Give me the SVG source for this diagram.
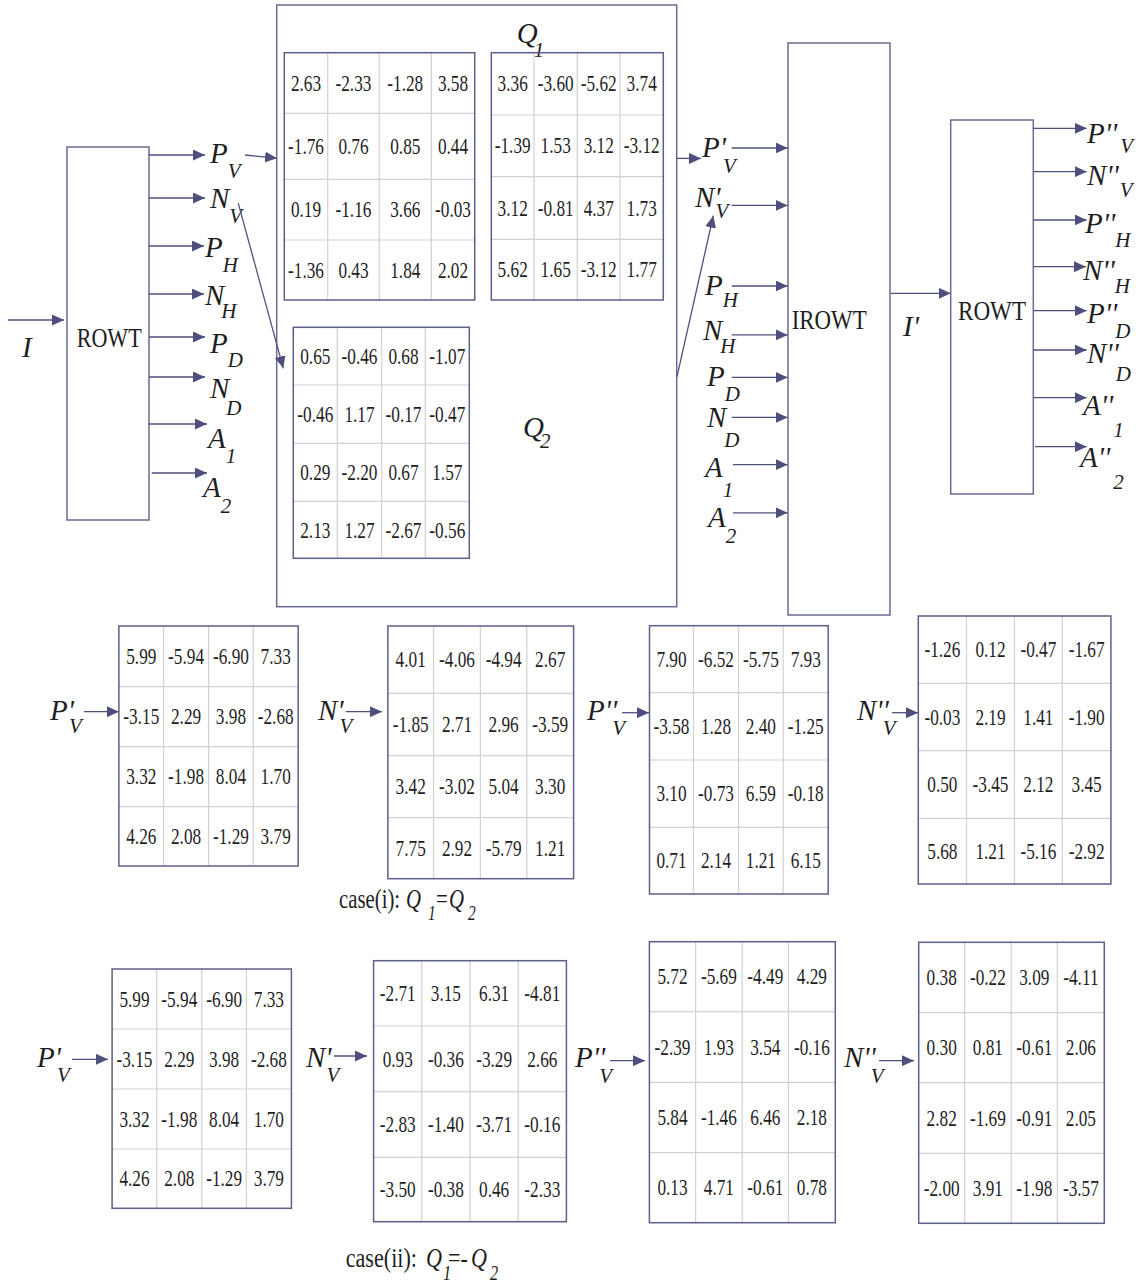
<svg xmlns="http://www.w3.org/2000/svg" width="1136" height="1282" viewBox="0 0 1136 1282">
<style>
.box{fill:none;stroke:#6a6a92;stroke-width:1.5}
.mo{fill:none;stroke:#5e5e8a;stroke-width:1.5}
.mg{fill:none;stroke:#d2d2d2;stroke-width:1.2}
.cn{fill:none;stroke:#4f4f7d;stroke-width:1.3;marker-end:url(#ah)}
.num{font-family:"Liberation Serif","Times New Roman",serif;font-size:23px;fill:#1e1e1e;text-anchor:middle}
.lab{font-family:"Liberation Serif","Times New Roman",serif;font-style:italic;font-size:29px;fill:#1e1e1e}
.sub{font-size:21px}
.big{font-family:"Liberation Serif","Times New Roman",serif;font-size:28px;fill:#1e1e1e}
.cap{font-family:"Liberation Serif","Times New Roman",serif;font-size:27px;fill:#1e1e1e}
.it{font-style:italic}
.sm{font-size:20px}
</style>
<defs>
<marker id="ah" markerWidth="13" markerHeight="11" refX="12" refY="5.5" orient="auto" markerUnits="userSpaceOnUse"><path d="M0,0L12,5.5L0,11z" fill="#4f4f7d"/></marker>
</defs>
<rect width="1136" height="1282" fill="#fff"/>

<!-- boxes -->
<g id="rowt1"><rect class="box" x="67" y="147" width="82" height="373"/><text class="big" x="76.7" y="346.7" textLength="65" lengthAdjust="spacingAndGlyphs">ROWT</text></g>
<g id="qbox"><rect class="box" x="276.7" y="5" width="400" height="601.7"/>
<text class="lab" x="516.7" y="43.3">Q<tspan class="sub" dx="-4" dy="13.4">1</tspan></text>
<text class="lab" x="523" y="436.7">Q<tspan class="sub" dx="-4" dy="11.6">2</tspan></text></g>
<g id="irowt"><rect class="box" x="788" y="43" width="102" height="572"/><text class="big" x="791.7" y="328.6" textLength="75" lengthAdjust="spacingAndGlyphs">IROWT</text></g>
<g id="rowt2"><rect class="box" x="950.7" y="120" width="82.6" height="374"/><text class="big" x="958" y="320" textLength="68" lengthAdjust="spacingAndGlyphs">ROWT</text></g>

<!-- matrices -->
<g id="q1a"><path class="mg" d="M327.7 52.7V300M379.3 52.7V300M431.3 52.7V300M284.3 113.3H474.7M284.3 179.3H474.7M284.3 240H474.7"/><rect class="mo" x="284.3" y="52.7" width="190.4" height="247.3"/>
<g transform="scale(0.75,1)" class="num">
<text y="91"><tspan x="408">2.63</tspan><tspan x="471.3">-2.33</tspan><tspan x="540.4">-1.28</tspan><tspan x="604">3.58</tspan></text>
<text y="154"><tspan x="408">-1.76</tspan><tspan x="471.3">0.76</tspan><tspan x="540.4">0.85</tspan><tspan x="604">0.44</tspan></text>
<text y="217.5"><tspan x="408">0.19</tspan><tspan x="471.3">-1.16</tspan><tspan x="540.4">3.66</tspan><tspan x="604">-0.03</tspan></text>
<text y="278"><tspan x="408">-1.36</tspan><tspan x="471.3">0.43</tspan><tspan x="540.4">1.84</tspan><tspan x="604">2.02</tspan></text>
</g></g>

<g id="q1b"><path class="mg" d="M534 52.7V300M577.3 52.7V300M620 52.7V300M491.3 115H663.3M491.3 176.7H663.3M491.3 239.3H663.3"/><rect class="mo" x="491.3" y="52.7" width="172" height="247.3"/>
<g transform="scale(0.75,1)" class="num">
<text y="91.5"><tspan x="683.6">3.36</tspan><tspan x="740.9">-3.60</tspan><tspan x="798.3">-5.62</tspan><tspan x="855.6">3.74</tspan></text>
<text y="153.5"><tspan x="683.6">-1.39</tspan><tspan x="740.9">1.53</tspan><tspan x="798.3">3.12</tspan><tspan x="855.6">-3.12</tspan></text>
<text y="216"><tspan x="683.6">3.12</tspan><tspan x="740.9">-0.81</tspan><tspan x="798.3">4.37</tspan><tspan x="855.6">1.73</tspan></text>
<text y="277.5"><tspan x="683.6">5.62</tspan><tspan x="740.9">1.65</tspan><tspan x="798.3">-3.12</tspan><tspan x="855.6">1.77</tspan></text>
</g></g>

<g id="q2"><path class="mg" d="M337.3 327.3V558.3M381.7 327.3V558.3M425.3 327.3V558.3M293.3 385H469.3M293.3 443.3H469.3M293.3 501.3H469.3"/><rect class="mo" x="293.3" y="327.3" width="176" height="231"/>
<g transform="scale(0.75,1)" class="num">
<text y="364"><tspan x="420.4">0.65</tspan><tspan x="479.3">-0.46</tspan><tspan x="538">0.68</tspan><tspan x="596.4">-1.07</tspan></text>
<text y="422"><tspan x="420.4">-0.46</tspan><tspan x="479.3">1.17</tspan><tspan x="538">-0.17</tspan><tspan x="596.4">-0.47</tspan></text>
<text y="480"><tspan x="420.4">0.29</tspan><tspan x="479.3">-2.20</tspan><tspan x="538">0.67</tspan><tspan x="596.4">1.57</tspan></text>
<text y="537.6"><tspan x="420.4">2.13</tspan><tspan x="479.3">1.27</tspan><tspan x="538">-2.67</tspan><tspan x="596.4">-0.56</tspan></text>
</g></g>

<g id="m_i_pv"><path class="mg" d="M163.6 626V866M208.6 626V866M253.2 626V866M118.9 686.7H298.2M118.9 746.7H298.2M118.9 806.7H298.2"/><rect class="mo" x="118.9" y="626" width="179.3" height="240"/>
<g transform="scale(0.75,1)" class="num">
<text y="664"><tspan x="188.4">5.99</tspan><tspan x="248.1">-5.94</tspan><tspan x="307.9">-6.90</tspan><tspan x="367.6">7.33</tspan></text>
<text y="724.5"><tspan x="188.4">-3.15</tspan><tspan x="248.1">2.29</tspan><tspan x="307.9">3.98</tspan><tspan x="367.6">-2.68</tspan></text>
<text y="784.5"><tspan x="188.4">3.32</tspan><tspan x="248.1">-1.98</tspan><tspan x="307.9">8.04</tspan><tspan x="367.6">1.70</tspan></text>
<text y="844"><tspan x="188.4">4.26</tspan><tspan x="248.1">2.08</tspan><tspan x="307.9">-1.29</tspan><tspan x="367.6">3.79</tspan></text>
</g></g>

<g id="m_i_nv"><path class="mg" d="M433.6 626V878.7M480.4 626V878.7M526.8 626V878.7M387.9 693.3H573.6M387.9 755.7H573.6M387.9 817.7H573.6"/><rect class="mo" x="387.9" y="626" width="185.7" height="252.7"/>
<g transform="scale(0.75,1)" class="num">
<text y="667.5"><tspan x="547.6">4.01</tspan><tspan x="609.3">-4.06</tspan><tspan x="671.5">-4.94</tspan><tspan x="733.6">2.67</tspan></text>
<text y="732.3"><tspan x="547.6">-1.85</tspan><tspan x="609.3">2.71</tspan><tspan x="671.5">2.96</tspan><tspan x="733.6">-3.59</tspan></text>
<text y="794.5"><tspan x="547.6">3.42</tspan><tspan x="609.3">-3.02</tspan><tspan x="671.5">5.04</tspan><tspan x="733.6">3.30</tspan></text>
<text y="856"><tspan x="547.6">7.75</tspan><tspan x="609.3">2.92</tspan><tspan x="671.5">-5.79</tspan><tspan x="733.6">1.21</tspan></text>
</g></g>

<g id="m_i_ppv"><path class="mg" d="M693.5 625.7V894M738.5 625.7V894M783.2 625.7V894M649.5 692.7H828.2M649.5 760H828.2M649.5 827.3H828.2"/><rect class="mo" x="649.5" y="625.7" width="178.7" height="268.3"/>
<g transform="scale(0.75,1)" class="num">
<text y="667"><tspan x="895.3">7.90</tspan><tspan x="954.7">-6.52</tspan><tspan x="1014.5">-5.75</tspan><tspan x="1074.3">7.93</tspan></text>
<text y="734"><tspan x="895.3">-3.58</tspan><tspan x="954.7">1.28</tspan><tspan x="1014.5">2.40</tspan><tspan x="1074.3">-1.25</tspan></text>
<text y="801.5"><tspan x="895.3">3.10</tspan><tspan x="954.7">-0.73</tspan><tspan x="1014.5">6.59</tspan><tspan x="1074.3">-0.18</tspan></text>
<text y="868.5"><tspan x="895.3">0.71</tspan><tspan x="954.7">2.14</tspan><tspan x="1014.5">1.21</tspan><tspan x="1074.3">6.15</tspan></text>
</g></g>

<g id="m_i_nnv"><path class="mg" d="M966.5 616V884M1014.4 616V884M1062.3 616V884M918.3 683.3H1110.9M918.3 750.7H1110.9M918.3 818.3H1110.9"/><rect class="mo" x="918.3" y="616" width="192.6" height="268"/>
<g transform="scale(0.75,1)" class="num">
<text y="657.5"><tspan x="1256.5">-1.26</tspan><tspan x="1320.7">0.12</tspan><tspan x="1384.5">-0.47</tspan><tspan x="1448.8">-1.67</tspan></text>
<text y="724.8"><tspan x="1256.5">-0.03</tspan><tspan x="1320.7">2.19</tspan><tspan x="1384.5">1.41</tspan><tspan x="1448.8">-1.90</tspan></text>
<text y="792.3"><tspan x="1256.5">0.50</tspan><tspan x="1320.7">-3.45</tspan><tspan x="1384.5">2.12</tspan><tspan x="1448.8">3.45</tspan></text>
<text y="859"><tspan x="1256.5">5.68</tspan><tspan x="1320.7">1.21</tspan><tspan x="1384.5">-5.16</tspan><tspan x="1448.8">-2.92</tspan></text>
</g></g>

<g id="m_ii_pv"><path class="mg" d="M156.8 969V1208.3M201.8 969V1208.3M246.4 969V1208.3M112.1 1029H291.4M112.1 1089H291.4M112.1 1149H291.4"/><rect class="mo" x="112.1" y="969" width="179.3" height="239.3"/>
<g transform="scale(0.75,1)" class="num">
<text y="1006.8"><tspan x="179.3">5.99</tspan><tspan x="239.1">-5.94</tspan><tspan x="298.8">-6.90</tspan><tspan x="358.5">7.33</tspan></text>
<text y="1066.8"><tspan x="179.3">-3.15</tspan><tspan x="239.1">2.29</tspan><tspan x="298.8">3.98</tspan><tspan x="358.5">-2.68</tspan></text>
<text y="1126.8"><tspan x="179.3">3.32</tspan><tspan x="239.1">-1.98</tspan><tspan x="298.8">8.04</tspan><tspan x="358.5">1.70</tspan></text>
<text y="1186.5"><tspan x="179.3">4.26</tspan><tspan x="239.1">2.08</tspan><tspan x="298.8">-1.29</tspan><tspan x="358.5">3.79</tspan></text>
</g></g>

<g id="m_ii_nv"><path class="mg" d="M421.8 960.7V1221.7M470 960.7V1221.7M518.2 960.7V1221.7M373.6 1026H566.4M373.6 1091.7H566.4M373.6 1157.3H566.4"/><rect class="mo" x="373.6" y="960.7" width="192.8" height="261"/>
<g transform="scale(0.75,1)" class="num">
<text y="1001"><tspan x="530.3">-2.71</tspan><tspan x="594.5">3.15</tspan><tspan x="658.8">6.31</tspan><tspan x="723.1">-4.81</tspan></text>
<text y="1066.6"><tspan x="530.3">0.93</tspan><tspan x="594.5">-0.36</tspan><tspan x="658.8">-3.29</tspan><tspan x="723.1">2.66</tspan></text>
<text y="1132.3"><tspan x="530.3">-2.83</tspan><tspan x="594.5">-1.40</tspan><tspan x="658.8">-3.71</tspan><tspan x="723.1">-0.16</tspan></text>
<text y="1197.3"><tspan x="530.3">-3.50</tspan><tspan x="594.5">-0.38</tspan><tspan x="658.8">0.46</tspan><tspan x="723.1">-2.33</tspan></text>
</g></g>

<g id="m_ii_ppv"><path class="mg" d="M695.6 941.7V1222.7M742.2 941.7V1222.7M788.4 941.7V1222.7M649.4 1011.7H835.3M649.4 1082.3H835.3M649.4 1152.7H835.3"/><rect class="mo" x="649.4" y="941.7" width="185.9" height="281"/>
<g transform="scale(0.75,1)" class="num">
<text y="984.5"><tspan x="896.7">5.72</tspan><tspan x="958.5">-5.69</tspan><tspan x="1020.4">-4.49</tspan><tspan x="1082.5">4.29</tspan></text>
<text y="1054.8"><tspan x="896.7">-2.39</tspan><tspan x="958.5">1.93</tspan><tspan x="1020.4">3.54</tspan><tspan x="1082.5">-0.16</tspan></text>
<text y="1125.3"><tspan x="896.7">5.84</tspan><tspan x="958.5">-1.46</tspan><tspan x="1020.4">6.46</tspan><tspan x="1082.5">2.18</tspan></text>
<text y="1195.5"><tspan x="896.7">0.13</tspan><tspan x="958.5">4.71</tspan><tspan x="1020.4">-0.61</tspan><tspan x="1082.5">0.78</tspan></text>
</g></g>

<g id="m_ii_nnv"><path class="mg" d="M964.6 942.3V1223.3M1011.2 942.3V1223.3M1057.4 942.3V1223.3M918.7 1012.7H1104.3M918.7 1082.7H1104.3M918.7 1153.3H1104.3"/><rect class="mo" x="918.7" y="942.3" width="185.6" height="281"/>
<g transform="scale(0.75,1)" class="num">
<text y="985.3"><tspan x="1255.6">0.38</tspan><tspan x="1317.2">-0.22</tspan><tspan x="1379.1">3.09</tspan><tspan x="1441.2">-4.11</tspan></text>
<text y="1055.5"><tspan x="1255.6">0.30</tspan><tspan x="1317.2">0.81</tspan><tspan x="1379.1">-0.61</tspan><tspan x="1441.2">2.06</tspan></text>
<text y="1125.8"><tspan x="1255.6">2.82</tspan><tspan x="1317.2">-1.69</tspan><tspan x="1379.1">-0.91</tspan><tspan x="1441.2">2.05</tspan></text>
<text y="1196"><tspan x="1255.6">-2.00</tspan><tspan x="1317.2">3.91</tspan><tspan x="1379.1">-1.98</tspan><tspan x="1441.2">-3.57</tspan></text>
</g></g>

<!-- labels -->
<g id="labels">
<text class="lab" x="22" y="357">I</text>
<text class="lab" x="210" y="163">P<tspan class="sub" dy="15">V</tspan></text>
<text class="lab" x="210" y="208">N<tspan class="sub" dy="15">V</tspan></text>
<text class="lab" x="205" y="257">P<tspan class="sub" dy="15">H</tspan></text>
<text class="lab" x="205" y="305">N<tspan class="sub" dx="-3" dy="13">H</tspan></text>
<text class="lab" x="210" y="353">P<tspan class="sub" dy="14">D</tspan></text>
<text class="lab" x="210" y="398">N<tspan class="sub" dx="-3" dy="17">D</tspan></text>
<text class="lab" x="208" y="448">A<tspan class="sub" dy="15">1</tspan></text>
<text class="lab" x="203" y="497">A<tspan class="sub" dy="16">2</tspan></text>

<text class="lab" x="702" y="156.5">P'<tspan class="sub" dx="-3" dy="16">V</tspan></text>
<text class="lab" x="695" y="206.5">N'<tspan class="sub" dx="-5" dy="11">V</tspan></text>
<text class="lab" x="705" y="295">P<tspan class="sub" dy="12">H</tspan></text>
<text class="lab" x="703" y="340">N<tspan class="sub" dx="-2" dy="12.6">H</tspan></text>
<text class="lab" x="707" y="386">P<tspan class="sub" dy="14.7">D</tspan></text>
<text class="lab" x="707" y="426.6">N<tspan class="sub" dx="-2" dy="20">D</tspan></text>
<text class="lab" x="705" y="476.6">A<tspan class="sub" dy="20">1</tspan></text>
<text class="lab" x="708" y="526.5">A<tspan class="sub" dy="16.5">2</tspan></text>

<text class="lab" x="903" y="336">I'</text>
<text class="lab" x="1087" y="143.3">P''<tspan class="sub" dx="3" dy="10">V</tspan></text>
<text class="lab" x="1087" y="185">N''<tspan class="sub" dx="1" dy="12">V</tspan></text>
<text class="lab" x="1085" y="233.3">P''<tspan class="sub" dy="13.3">H</tspan></text>
<text class="lab" x="1083" y="280">N''<tspan class="sub" dy="13.3">H</tspan></text>
<text class="lab" x="1087" y="323.3">P''<tspan class="sub" dx="-2" dy="15">D</tspan></text>
<text class="lab" x="1087" y="363.3">N''<tspan class="sub" dx="-3" dy="18">D</tspan></text>
<text class="lab" x="1083" y="415">A''<tspan class="sub" dy="21.7">1</tspan></text>
<text class="lab" x="1080" y="467">A''<tspan class="sub" dx="3" dy="21.7">2</tspan></text>

<text class="lab" x="50" y="720">P'<tspan class="sub" dx="-5" dy="13">V</tspan></text>
<text class="lab" x="318" y="720">N'<tspan class="sub" dx="-4" dy="13">V</tspan></text>
<text class="lab" x="587" y="720">P''<tspan class="sub" dx="-5" dy="15">V</tspan></text>
<text class="lab" x="857" y="720">N''<tspan class="sub" dx="-6" dy="15">V</tspan></text>
<text class="lab" x="37" y="1067">P'<tspan class="sub" dx="-4" dy="15">V</tspan></text>
<text class="lab" x="306" y="1067">N'<tspan class="sub" dx="-5" dy="15">V</tspan></text>
<text class="lab" x="575" y="1067">P''<tspan class="sub" dx="-6" dy="16">V</tspan></text>
<text class="lab" x="844" y="1067">N''<tspan class="sub" dx="-5" dy="16">V</tspan></text>

<text class="cap" transform="translate(339,908) scale(0.77,1)">case(i): <tspan class="it" x="87">Q</tspan><tspan class="it sm" x="115.6" y="12">1</tspan><tspan x="126" y="0">=</tspan><tspan class="it" x="142.9">Q</tspan><tspan class="it sm" x="167.5" y="12">2</tspan></text>
<text class="cap" transform="translate(345.7,1267) scale(0.82,1)">case(ii): <tspan class="it" x="97.9">Q</tspan><tspan class="it sm" x="118.7" y="13">1</tspan><tspan x="124.8" y="0">=-</tspan><tspan class="it" x="152.8">Q</tspan><tspan class="it sm" x="176" y="13">2</tspan></text>
</g>

<!-- connectors -->
<g id="connectors">
<path class="cn" d="M8 320H64"/>
<path class="cn" d="M149 155H205"/>
<path class="cn" d="M149 198H205"/>
<path class="cn" d="M149 246H204"/>
<path class="cn" d="M149 294H204"/>
<path class="cn" d="M149 337H205"/>
<path class="cn" d="M149 377H205"/>
<path class="cn" d="M149 424H207"/>
<path class="cn" d="M151.7 473H207"/>
<path class="cn" d="M245 155L277 158.3"/>
<path class="cn" d="M238.3 203.3L283.3 368.3"/>
<path class="cn" d="M677 158.4H701"/>
<path class="cn" d="M677 376.7L713.3 215.7"/>
<path class="cn" d="M731.7 148H787.7"/>
<path class="cn" d="M731.7 205.4H787.7"/>
<path class="cn" d="M731.7 286H787.7"/>
<path class="cn" d="M731.7 334.9H787.7"/>
<path class="cn" d="M731.7 377.4H787.7"/>
<path class="cn" d="M731.7 417.4H787.7"/>
<path class="cn" d="M733 464.7H787.7"/>
<path class="cn" d="M733 512.8H787.7"/>
<path class="cn" d="M891 293.3H950.7"/>
<path class="cn" d="M1033.3 128.3H1086.7"/>
<path class="cn" d="M1033.3 171.7H1086.7"/>
<path class="cn" d="M1033.3 220H1086.7"/>
<path class="cn" d="M1033.3 266.7H1086"/>
<path class="cn" d="M1033.3 310.7H1086.7"/>
<path class="cn" d="M1033.3 350H1086.7"/>
<path class="cn" d="M1033.3 397.7H1086.7"/>
<path class="cn" d="M1035 446.7H1086.7"/>
<path class="cn" d="M84 711.7H118.9"/>
<path class="cn" d="M345.7 711.7H382"/>
<path class="cn" d="M622 712.7H649"/>
<path class="cn" d="M892 712.7H918"/>
<path class="cn" d="M72 1059.3H108"/>
<path class="cn" d="M334 1056H367"/>
<path class="cn" d="M610 1060.7H645"/>
<path class="cn" d="M879 1060.7H914"/>
</g>
</svg>
